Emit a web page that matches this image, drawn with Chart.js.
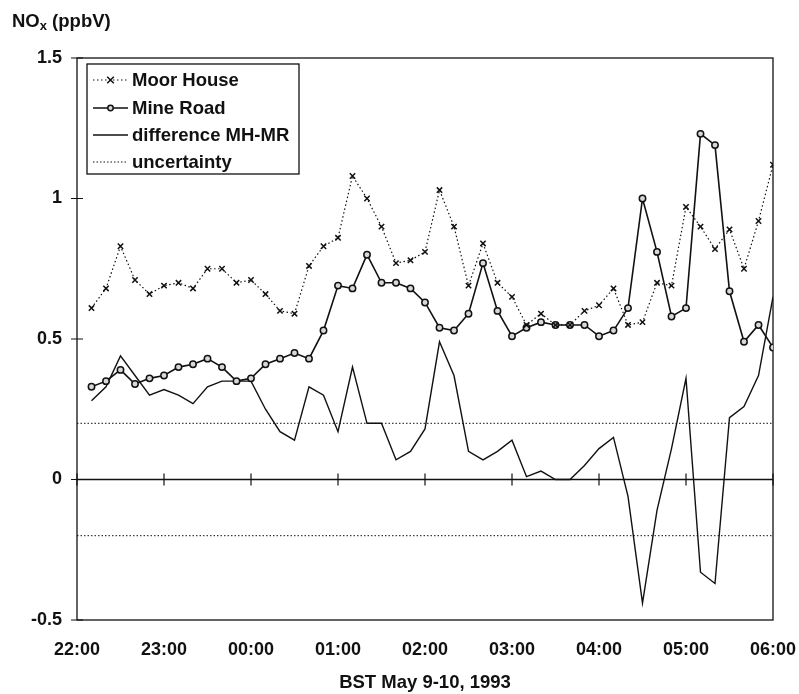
<!DOCTYPE html>
<html>
<head>
<meta charset="utf-8">
<script src="https://cdn.jsdelivr.net/npm/chart.js@4"></script>
<style>
  html, body { margin: 0; padding: 0; background: #fff; }
  #wrap { width: 799px; height: 694px; }
</style>
</head>
<body>
<div id="wrap"><canvas id="noxChart" width="799" height="694"></canvas></div>
<script>
// sample times, BST May 9-10, 1993 (10 minute steps)
const times = [
    '22:10', '22:20', '22:30', '22:40', '22:50', '23:00',
    '23:10', '23:20', '23:30', '23:40', '23:50', '00:00',
    '00:10', '00:20', '00:30', '00:40', '00:50', '01:00',
    '01:10', '01:20', '01:30', '01:40', '01:50', '02:00',
    '02:10', '02:20', '02:30', '02:40', '02:50', '03:00',
    '03:10', '03:20', '03:30', '03:40', '03:50', '04:00',
    '04:10', '04:20', '04:30', '04:40', '04:50', '05:00',
    '05:10', '05:20', '05:30', '05:40', '05:50', '06:00'
];
const hourLabels = ['22:00', '23:00', '00:00', '01:00', '02:00', '03:00', '04:00', '05:00', '06:00'];

const moorHouse = [
    0.61, 0.68, 0.83, 0.71, 0.66, 0.69, 0.70, 0.68, 0.75, 0.75,
    0.70, 0.71, 0.66, 0.60, 0.59, 0.76, 0.83, 0.86, 1.08, 1.00,
    0.90, 0.77, 0.78, 0.81, 1.03, 0.90, 0.69, 0.84, 0.70, 0.65,
    0.55, 0.59, 0.55, 0.55, 0.60, 0.62, 0.68, 0.55, 0.56, 0.70,
    0.69, 0.97, 0.90, 0.82, 0.89, 0.75, 0.92, 1.12
];
const mineRoad = [
    0.33, 0.35, 0.39, 0.34, 0.36, 0.37, 0.40, 0.41, 0.43, 0.40,
    0.35, 0.36, 0.41, 0.43, 0.45, 0.43, 0.53, 0.69, 0.68, 0.80,
    0.70, 0.70, 0.68, 0.63, 0.54, 0.53, 0.59, 0.77, 0.60, 0.51,
    0.54, 0.56, 0.55, 0.55, 0.55, 0.51, 0.53, 0.61, 1.00, 0.81,
    0.58, 0.61, 1.23, 1.19, 0.67, 0.49, 0.55, 0.47
];
const differenceMHMR = [
    0.28, 0.33, 0.44, 0.37, 0.30, 0.32, 0.30, 0.27, 0.33, 0.35,
    0.35, 0.35, 0.25, 0.17, 0.14, 0.33, 0.30, 0.17, 0.40, 0.20,
    0.20, 0.07, 0.10, 0.18, 0.49, 0.37, 0.10, 0.07, 0.10, 0.14,
    0.01, 0.03, 0.00, 0.00, 0.05, 0.11, 0.15, -0.06, -0.44, -0.11,
    0.11, 0.36, -0.33, -0.37, 0.22, 0.26, 0.37, 0.65
];
const uncertaintyTimes = ['22:00', '06:00'];
const uncertaintyUpper = [0.2, 0.2];
const uncertaintyLower = [-0.2, -0.2];

const FONT = '"Liberation Sans", Arial, Helvetica, sans-serif';
const INK = '#111';

// minutes after 22:00
function toMinutes(t) {
    const parts = t.split(':');
    const m = parseInt(parts[0], 10) * 60 + parseInt(parts[1], 10);
    return (m - 22 * 60 + 1440) % 1440;
}
function pairUp(labels, values) {
    return values.map((v, i) => ({ x: toMinutes(labels[i]), y: v }));
}

// plot frame, zero line and crossing tick marks
const framePlugin = {
    id: 'frame',
    beforeDatasetsDraw(chart) {
        const ctx = chart.ctx;
        const area = chart.chartArea;
        const xs = chart.scales.x;
        const ys = chart.scales.y;
        const y0 = ys.getPixelForValue(0);
        ctx.save();
        ctx.strokeStyle = INK;
        ctx.lineWidth = 1.3;
        ctx.strokeRect(area.left, area.top, area.right - area.left, area.bottom - area.top);
        ctx.lineWidth = 1.6;
        ctx.beginPath();
        ctx.moveTo(area.left, y0);
        ctx.lineTo(area.right, y0);
        ctx.stroke();
        ctx.lineWidth = 1.2;
        ctx.beginPath();
        ys.ticks.forEach(t => {
            const py = ys.getPixelForValue(t.value);
            ctx.moveTo(area.left - 6, py);
            ctx.lineTo(area.left + 6, py);
        });
        xs.ticks.forEach(t => {
            const px = xs.getPixelForValue(t.value);
            ctx.moveTo(px, y0 - 6);
            ctx.lineTo(px, y0 + 6);
        });
        ctx.stroke();
        ctx.restore();
    },
    afterDraw(chart) {
        const ctx = chart.ctx;
        ctx.save();
        ctx.fillStyle = INK;
        ctx.textBaseline = 'alphabetic';
        ctx.font = 'bold 18.5px ' + FONT;
        ctx.fillText('NO', 12, 27);
        let w = ctx.measureText('NO').width;
        ctx.font = 'bold 13px ' + FONT;
        ctx.fillText('x', 12 + w, 30);
        w += ctx.measureText('x').width;
        ctx.font = 'bold 18.5px ' + FONT;
        ctx.fillText(' (ppbV)', 12 + w, 27);
        ctx.restore();
    }
};

// boxed legend in the upper left corner, symbols drawn like the series
const legendPlugin = {
    id: 'boxLegend',
    afterDatasetsDraw(chart) {
        const ctx = chart.ctx;
        const box = { left: 87, top: 64, right: 299, bottom: 174 };
        ctx.save();
        ctx.fillStyle = '#fff';
        ctx.fillRect(box.left, box.top, box.right - box.left, box.bottom - box.top);
        ctx.strokeStyle = INK;
        ctx.lineWidth = 1.3;
        ctx.strokeRect(box.left, box.top, box.right - box.left, box.bottom - box.top);

        const rows = [80, 108, 135, 162];
        const shown = chart.data.datasets.filter(d => !d.hideInLegend);
        shown.forEach((ds, i) => {
            const y = rows[i];
            ctx.strokeStyle = INK;
            ctx.lineWidth = ds.borderWidth;
            ctx.setLineDash(ds.borderDash || []);
            ctx.beginPath();
            ctx.moveTo(93, y);
            ctx.lineTo(128, y);
            ctx.stroke();
            ctx.setLineDash([]);
            if (ds.pointRadius > 0) {
                const r = ds.pointRadius - 0.5;
                ctx.lineWidth = ds.pointBorderWidth;
                ctx.beginPath();
                if (ds.pointStyle === 'crossRot') {
                    ctx.moveTo(110.5 - r, y - r);
                    ctx.lineTo(110.5 + r, y + r);
                    ctx.moveTo(110.5 - r, y + r);
                    ctx.lineTo(110.5 + r, y - r);
                    ctx.stroke();
                } else {
                    ctx.fillStyle = ds.pointBackgroundColor;
                    ctx.arc(110.5, y, r, 0, Math.PI * 2);
                    ctx.fill();
                    ctx.stroke();
                }
            }
            ctx.fillStyle = INK;
            ctx.font = 'bold 18.5px ' + FONT;
            ctx.textBaseline = 'middle';
            ctx.fillText(ds.label, 132, y + 1);
        });
        ctx.restore();
    }
};

const ctx = document.getElementById('noxChart').getContext('2d');
const chart = new Chart(ctx, {
    type: 'line',
    data: {
        datasets: [
            {
                label: 'Moor House',
                data: pairUp(times, moorHouse),
                borderColor: INK,
                borderWidth: 1.2,
                borderDash: [1.5, 2.5],
                pointStyle: 'crossRot',
                pointRadius: 3.8,
                pointBorderWidth: 1.5,
                pointBorderColor: INK,
                pointBackgroundColor: INK
            },
            {
                label: 'Mine Road',
                data: pairUp(times, mineRoad),
                borderColor: INK,
                borderWidth: 1.6,
                pointStyle: 'circle',
                pointRadius: 3.2,
                pointBorderWidth: 1.5,
                pointBorderColor: INK,
                pointBackgroundColor: '#d8d8d8'
            },
            {
                label: 'difference MH-MR',
                data: pairUp(times, differenceMHMR),
                borderColor: INK,
                borderWidth: 1.4,
                pointRadius: 0
            },
            {
                label: 'uncertainty',
                data: pairUp(uncertaintyTimes, uncertaintyUpper),
                borderColor: INK,
                borderWidth: 1,
                borderDash: [1.5, 2],
                pointRadius: 0
            },
            {
                label: 'uncertainty (lower)',
                hideInLegend: true,
                data: pairUp(uncertaintyTimes, uncertaintyLower),
                borderColor: INK,
                borderWidth: 1,
                borderDash: [1.5, 2],
                pointRadius: 0
            }
        ]
    },
    options: {
        responsive: false,
        animation: false,
        events: [],
        layout: {
            padding: { left: 0, right: 26, top: 58, bottom: 0 }
        },
        elements: {
            line: { tension: 0, fill: false }
        },
        plugins: {
            legend: { display: false },
            tooltip: { enabled: false }
        },
        scales: {
            x: {
                type: 'linear',
                min: 0,
                max: 480,
                grid: { display: false, drawTicks: false },
                border: { display: false },
                ticks: {
                    stepSize: 60,
                    autoSkip: false,
                    maxRotation: 0,
                    padding: 19,
                    color: INK,
                    font: { family: FONT, size: 18, weight: 'bold' },
                    callback: function (value) {
                        return hourLabels[Math.round(value / 60)];
                    }
                },
                title: {
                    display: true,
                    text: 'BST May 9-10, 1993',
                    color: INK,
                    padding: 0,
                    font: { family: FONT, size: 18.5, weight: 'bold' }
                },
                afterFit: function (scale) {
                    scale.height = 74;
                    scale.paddingLeft = 0;
                    scale.paddingRight = 0;
                }
            },
            y: {
                min: -0.5,
                max: 1.5,
                grid: { display: false, drawTicks: false },
                border: { display: false },
                ticks: {
                    stepSize: 0.5,
                    padding: 15,
                    color: INK,
                    font: { family: FONT, size: 18, weight: 'bold' },
                    callback: function (value) {
                        return String(value);
                    }
                },
                afterFit: function (scale) {
                    scale.width = 77;
                }
            }
        }
    },
    plugins: [framePlugin, legendPlugin]
});
</script>
</body>
</html>
